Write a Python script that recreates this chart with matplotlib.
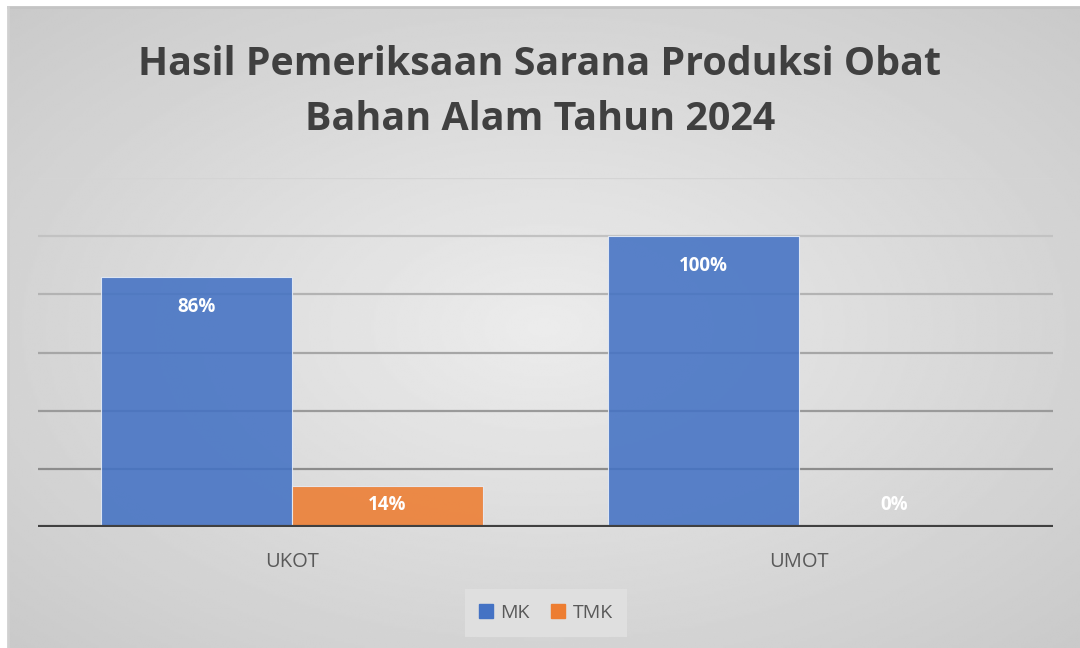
import numpy as np
import matplotlib.pyplot as plt
from matplotlib.patches import Rectangle

plt.rcParams['font.family'] = ['Open Sans', 'DejaVu Sans']

categories = ['UKOT', 'UMOT']
series_names = ['MK', 'TMK']
mk_values = [86, 100]
tmk_values = [14, 0]
colors = ['#4472C4', '#ED7D31']
title = 'Hasil Pemeriksaan Sarana Produksi Obat\nBahan Alam Tahun 2024'

fig = plt.figure(figsize=(10.8, 6.48), dpi=100)
fig.patch.set_facecolor('white')

# chart area background: radial grey gradient
bg = fig.add_axes([8 / 1080, 0, 1 - 8 / 1080, 1 - 7 / 648])
yy, xx = np.mgrid[-1:1:300j, -1:1:500j]
r = np.sqrt(xx ** 2 + yy ** 2) / np.sqrt(2)
light, dark = 0.925, 0.79
bg.imshow(light - (light - dark) * r, cmap='gray', vmin=0, vmax=1,
          extent=[0, 1, 0, 1], aspect='auto', interpolation='bilinear')
bg.set_xlim(0, 1)
bg.set_ylim(0, 1)
bg.axis('off')
fig.add_artist(plt.Line2D([8 / 1080, 1], [1 - 7 / 648] * 2, color='#c4c4c4', lw=2))
fig.add_artist(plt.Line2D([8 / 1080] * 2, [0, 1 - 7 / 648], color='#d0d0d0', lw=2))

ax = fig.add_axes([38 / 1080, 121 / 648, 1015 / 1080, 349 / 648])
ax.patch.set_alpha(0)
ax.set_xlim(-0.5, 1.5)
ax.set_ylim(0, 120)

# gridlines fade darker towards the bottom
grid_cols = {20: '#8c8c8c', 40: '#9a9a9a', 60: '#a6a6a6', 80: '#b3b3b3', 100: '#c2c2c2', 120: '#d4d4d4'}
for yv, c in grid_cols.items():
    ax.axhline(yv, color=c, lw=1.6, zorder=1)

x = np.arange(len(categories))
w = 0.376
for i, (vals, col) in enumerate(zip([mk_values, tmk_values], colors)):
    xs = x + (i - 0.5) * w
    ax.bar(xs, vals, width=w, color=col, alpha=0.88, edgecolor='#e8eef8', linewidth=0.8, zorder=2)
    for xi, v in zip(xs, vals):
        ly = v - 10.3 if v > 30 else 7.7
        ax.text(xi, ly, f'{v}%', ha='center', va='center', color='white',
                fontsize=13.5, fontweight='bold', zorder=3)

ax.axhline(0, color='#404040', lw=3, zorder=4)

ax.set_xticks(x)
ax.set_xticklabels(categories, fontsize=14.5, color='#595959')
ax.tick_params(axis='x', length=0, pad=18)
ax.set_yticks([])
for s in ax.spines.values():
    s.set_visible(False)

fig.text(0.5, 1 - 92 / 648, title, ha='center', va='center', fontsize=28.4,
         fontweight='bold', color='#404040', linespacing=1.56)

handles = [Rectangle((0, 0), 1, 1, color=c) for c in colors]
leg = fig.legend(handles, series_names, loc='center', bbox_to_anchor=(546 / 1080, 1 - 613 / 648),
                 ncol=2, frameon=True, fontsize=14, handlelength=0.7, handleheight=0.7,
                 handletextpad=0.4, columnspacing=1.1, borderpad=0.75)
leg.get_frame().set_facecolor('#e2e2e2')
leg.get_frame().set_edgecolor('none')
leg.get_frame().set_boxstyle('square', pad=0)
for t in leg.get_texts():
    t.set_color('#595959')

fig.savefig('out.png', dpi=100)
